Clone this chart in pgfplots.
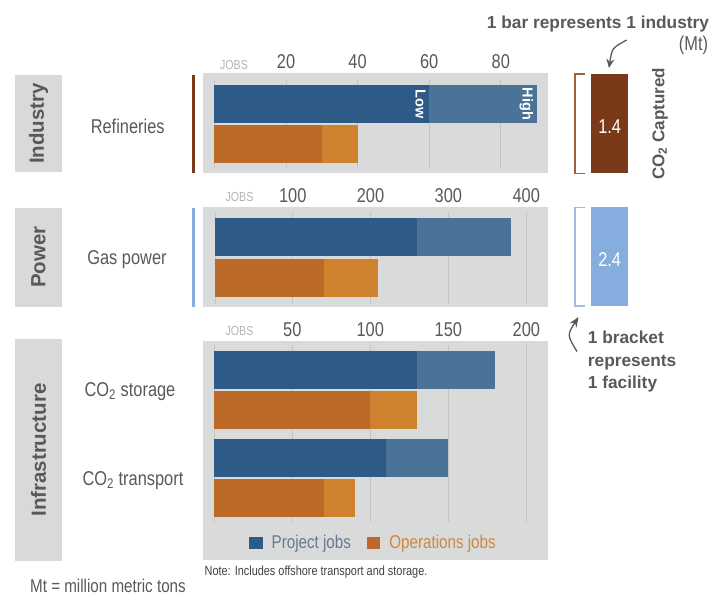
\documentclass[border=0pt]{standalone}
\usepackage{pgfplots}
\pgfplotsset{compat=1.18}
\usepackage{fontspec}
\setmainfont{Liberation Sans}
\newfontfamily\nar[FakeStretch=0.82]{Liberation Sans}
\usetikzlibrary{arrows.meta}

\definecolor{bluelo}{RGB}{46,90,135}
\definecolor{bluehi}{RGB}{74,115,151}
\definecolor{orlo}{RGB}{188,106,42}
\definecolor{orhi}{RGB}{207,130,45}
\definecolor{panelbg}{RGB}{217,218,218}
\definecolor{boxbg}{RGB}{217,217,217}
\definecolor{gridc}{RGB}{196,196,196}
\definecolor{brownbar}{RGB}{122,58,26}
\definecolor{brownbr}{RGB}{160,96,62}
\definecolor{lblue}{RGB}{133,174,222}
\definecolor{lbluebr}{RGB}{157,189,227}
\definecolor{txt}{RGB}{89,89,89}
\definecolor{jobsc}{RGB}{180,180,180}
\definecolor{projtxt}{RGB}{104,120,148}
\definecolor{opstxt}{RGB}{208,135,58}

\pgfplotsset{
  jobpanel/.style={
    scale only axis, width=345pt, anchor=south west,
    axis background/.style={fill=panelbg},
    axis line style={draw=none},
    hide y axis, ymin=0,
    xticklabel pos=upper, major tick length=0pt,
    xticklabel style={font=\nar\fontsize{20}{24}\selectfont, text=txt, anchor=center, yshift=11.5pt},
    clip=false,
    xbar, bar width=38pt, bar shift=0pt,
  },
}

\begin{document}
\begin{tikzpicture}[x=1pt,y=1pt]
\useasboundingbox (0,0) rectangle (724,597);

% category boxes on the left
\fill[boxbg] (15,425) rectangle (62,522);
\fill[boxbg] (15,290.3) rectangle (62,389.3);
\fill[boxbg] (15,36.3) rectangle (62,257.7);
\node[rotate=90, font=\bfseries\fontsize{20.5}{24}\selectfont, text=txt] at (38.5,473.5) {Industry};
\node[rotate=90, font=\bfseries\fontsize{20.5}{24}\selectfont, text=txt] at (38.5,340) {Power};
\node[rotate=90, font=\bfseries\fontsize{20.5}{24}\selectfont, text=txt] at (38.5,147) {Infrastructure};

\fill[brownbar] (192,424) rectangle (195,522);
\fill[lblue] (192,290.3) rectangle (195,389.3);

\begin{scope}[every node/.style={font=\nar\fontsize{20}{24}\selectfont, text=txt}]
\node at (127.7,471) {Refineries};
\node at (127,337) {Gas power};
\node at (130,205.3) {CO\textsubscript{2} storage};
\node at (133,116.3) {CO\textsubscript{2} transport};
\end{scope}

\begin{scope}[every node/.style={font=\nar\fontsize{13}{15}\selectfont, text=jobsc}]
\node at (234,532) {JOBS};
\node at (239.5,399.7) {JOBS};
\node at (239.5,266.3) {JOBS};
\end{scope}

% Industry: refineries
\begin{axis}[jobpanel, at={(203pt,424pt)}, height=100pt, ymax=100,
  xmin=-3.2, xmax=93.2, xtick={20,40,60,80}, xticklabels={20,40,60,80}]
\pgfplotsinvokeforeach{0,20,40,60,80}{\draw[gridc, line width=0.8pt] (axis cs:#1,5) -- (axis cs:#1,93);}
\addplot[fill=bluehi, draw=none] coordinates {(90,69)};
\addplot[fill=bluelo, draw=none] coordinates {(60,69)};
\addplot[fill=orhi, draw=none] coordinates {(40,29)};
\addplot[fill=orlo, draw=none] coordinates {(30,29)};
\node[rotate=-90, anchor=north, text=white, font=\bfseries\fontsize{14.5}{17}\selectfont] at (axis cs:60,69) {Low};
\node[rotate=-90, anchor=north, text=white, font=\bfseries\fontsize{14.5}{17}\selectfont] at (axis cs:90,69) {High};
\end{axis}

% Power: gas power
\begin{axis}[jobpanel, at={(203pt,290.3pt)}, height=100pt, ymax=100,
  xmin=-15.3, xmax=428, xtick={100,200,300,400}, xticklabels={100,200,300,400}]
\pgfplotsinvokeforeach{0,100,200,300,400}{\draw[gridc, line width=0.8pt] (axis cs:#1,3) -- (axis cs:#1,95);}
\addplot[fill=bluehi, draw=none] coordinates {(380,70)};
\addplot[fill=bluelo, draw=none] coordinates {(260,70)};
\addplot[fill=orhi, draw=none] coordinates {(210,29)};
\addplot[fill=orlo, draw=none] coordinates {(140,29)};
\end{axis}

% Infrastructure: CO2 storage and transport
\begin{axis}[jobpanel, at={(203pt,36.5pt)}, height=219.8pt, ymax=219.8,
  xmin=-7.24, xmax=213.9, xtick={50,100,150,200}, xticklabels={50,100,150,200},
  legend columns=2,
  legend style={at={(0.494,0.08)}, anchor=center, draw=none, fill=none,
    font=\nar\fontsize{18.5}{22}\selectfont,
    /tikz/every even column/.append style={column sep=14pt}},
  legend image code/.code={\fill[#1] (0pt,-6.3pt) rectangle (13.4pt,6.3pt); \path (20.5pt,0pt);},
]
\pgfplotsinvokeforeach{0,50,100,150,200}{\draw[gridc, line width=0.8pt] (axis cs:#1,38) -- (axis cs:#1,215.5);}
\addplot[fill=bluehi, draw=none, forget plot] coordinates {(180,190.5)};
\addplot[fill=bluelo, draw=none] coordinates {(130,190.5)};
\addlegendentry{\textcolor{projtxt}{Project jobs}}
\addplot[fill=orhi, draw=none, forget plot] coordinates {(130,150.5)};
\addplot[fill=orlo, draw=none] coordinates {(100,150.5)};
\addlegendentry{\textcolor{opstxt}{Operations jobs}}
\addplot[fill=bluehi, draw=none, forget plot] coordinates {(150,102.2)};
\addplot[fill=bluelo, draw=none, forget plot] coordinates {(110,102.2)};
\addplot[fill=orhi, draw=none, forget plot] coordinates {(90,62.2)};
\addplot[fill=orlo, draw=none, forget plot] coordinates {(70,62.2)};
\end{axis}

% CO2 captured key on the right
\fill[brownbar] (591,423.7) rectangle (628.3,523);
\node[text=white, font=\nar\fontsize{20}{24}\selectfont] at (609.7,470.3) {1.4};
\draw[brownbr, line width=1.3pt] (585,523) -- (575,523) -- (575,423.7) -- (585,423.7);
\fill[lblue] (591,291) rectangle (628.3,389.7);
\node[text=white, font=\nar\fontsize{20}{24}\selectfont] at (609.7,337) {2.4};
\draw[lbluebr, line width=1.3pt] (585,389.7) -- (575,389.7) -- (575,291) -- (585,291);

\node[rotate=90, text=txt, font=\bfseries\fontsize{17}{20}\selectfont] at (660,473) {CO\textsubscript{2} Captured};
\node[anchor=base, text=txt, font=\bfseries\fontsize{17.3}{20}\selectfont] at (598,568.7) {1 bar represents 1 industry};
\node[anchor=east, inner sep=0pt, text=txt, font=\nar\fontsize{20}{24}\selectfont] at (708.3,552) {(Mt)};
\draw[txt, line width=1.3pt, -{Stealth[length=9pt,width=8pt]}] (626.7,557) .. controls (612,549) .. (609,529);

\begin{scope}[every node/.style={anchor=base west, inner sep=0pt, text=txt, font=\bfseries\fontsize{17.3}{20}\selectfont}]
\node at (587.7,253.2) {1 bracket};
\node at (587.7,230.5) {represents};
\node at (587.7,208.8) {1 facility};
\end{scope}
\draw[txt, line width=1.3pt, -{Stealth[length=10pt,width=8pt]}] (577,245.5) .. controls (567,262) .. (578.5,280);

% footnotes
\node[anchor=base west, inner sep=0pt, text=black!75, font=\nar\fontsize{13.3}{16}\selectfont] at (204.5,21.5) {Note: Includes offshore transport and storage.};
\node[anchor=base west, inner sep=0pt, text=txt, font=\nar\fontsize{18.5}{22}\selectfont] at (30,4) {Mt = million metric tons};
\end{tikzpicture}
\end{document}
